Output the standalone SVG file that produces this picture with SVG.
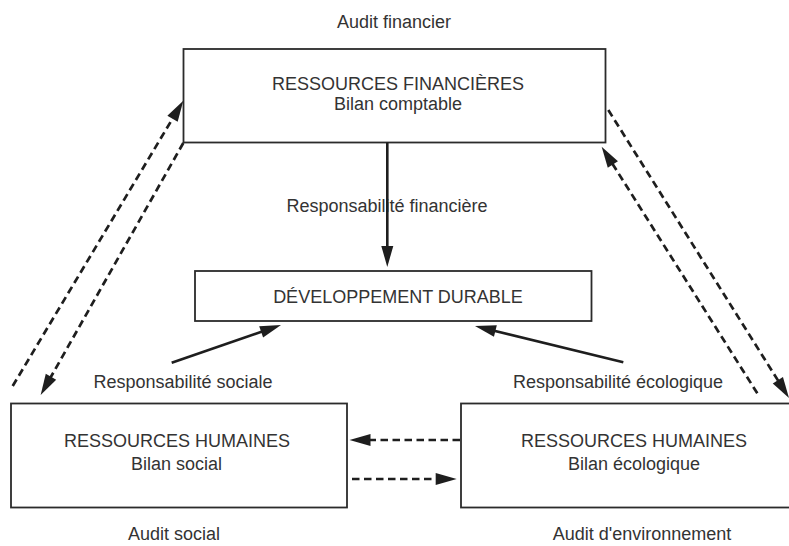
<svg xmlns="http://www.w3.org/2000/svg" width="789" height="546" viewBox="0 0 789 546">
<style>
  .box { fill: #fff; stroke: #2b2b2b; stroke-width: 1.8; }
  .t { font-family: "Liberation Sans", Arial, sans-serif; font-size: 18px; fill: #333; text-anchor: middle; }
  .solid { stroke: #1e1e1e; stroke-width: 2.6; fill: none; marker-end: url(#ah); }
  .dash { stroke: #1e1e1e; stroke-width: 2.7; fill: none; stroke-dasharray: 7.5 4.5; marker-end: url(#ah); }
</style>
<defs>
  <marker id="ah" markerUnits="userSpaceOnUse" markerWidth="21" markerHeight="12" refX="14" refY="6" orient="auto" overflow="visible">
    <path d="M0,0 L21,6 L0,12 z" fill="#1e1e1e"/>
  </marker>
</defs>
<rect width="789" height="546" fill="#fff"/>

<g id="labels">
  <text class="t" x="394" y="28">Audit financier</text>
  <text class="t" x="387" y="212">Responsabilité financière</text>
  <text class="t" x="183" y="388">Responsabilité sociale</text>
  <text class="t" x="618" y="388">Responsabilité écologique</text>
  <text class="t" x="174" y="540">Audit social</text>
  <text class="t" x="642" y="540">Audit d'environnement</text>
</g>

<g id="financieres">
  <rect class="box" x="183.5" y="49" width="422" height="93.5"/>
  <text class="t" x="398" y="90">RESSOURCES FINANCIÈRES</text>
  <text class="t" x="398" y="110">Bilan comptable</text>
</g>

<g id="developpement">
  <rect class="box" x="195" y="271" width="396.5" height="50"/>
  <text class="t" x="398" y="303">DÉVELOPPEMENT DURABLE</text>
</g>

<g id="humaines-social">
  <rect class="box" x="11" y="403.5" width="336" height="104"/>
  <text class="t" x="177" y="447">RESSOURCES HUMAINES</text>
  <text class="t" x="176.5" y="469.5">Bilan social</text>
</g>

<g id="humaines-ecologique">
  <rect class="box" x="461" y="403.5" width="346" height="104"/>
  <text class="t" x="634" y="447">RESSOURCES HUMAINES</text>
  <text class="t" x="634" y="469.5">Bilan écologique</text>
</g>

<g id="connectors">
  <line class="solid" x1="387.3" y1="142.5" x2="387.3" y2="260"/>
  <line class="solid" x1="171.7" y1="362.7" x2="274.4" y2="327.3"/>
  <line class="solid" x1="623.3" y1="362.3" x2="481.8" y2="327.7"/>
  <line class="dash" x1="12.7" y1="386" x2="179.7" y2="106.7"/>
  <line class="dash" x1="183.3" y1="143" x2="44.1" y2="388.9"/>
  <line class="dash" x1="608.3" y1="110" x2="785.3" y2="392.1"/>
  <line class="dash" x1="757.3" y1="393.3" x2="605.4" y2="152.6"/>
  <line class="dash" x1="460" y1="440" x2="356.5" y2="440"/>
  <line class="dash" x1="352" y1="479" x2="449.7" y2="479"/>
</g>
</svg>
